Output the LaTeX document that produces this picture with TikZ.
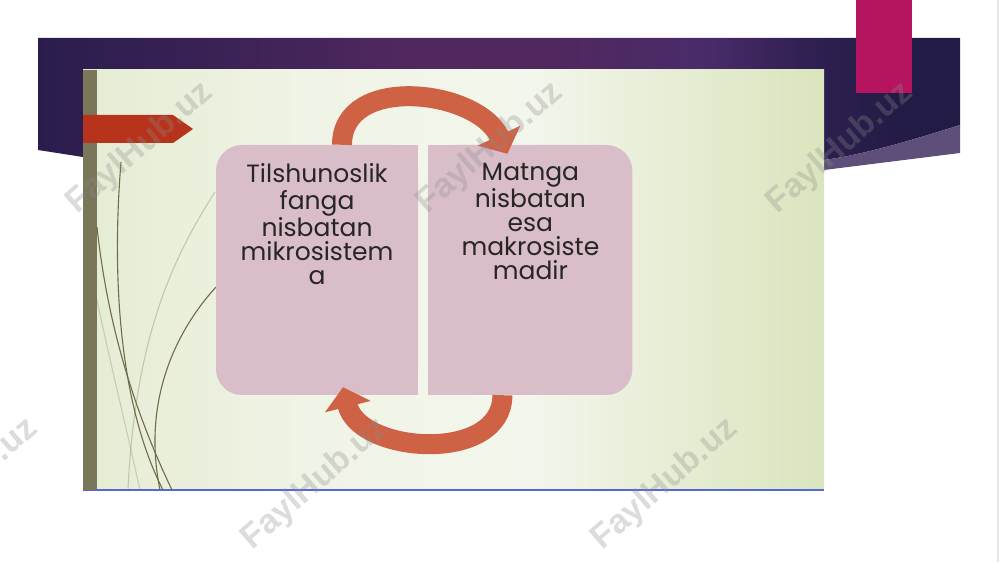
\documentclass[tikz,border=0pt]{standalone}
\usepackage{fontspec}
\usepackage{tikz}
\usetikzlibrary{arrows.meta,positioning}
\newfontfamily\panelfont{Poppins}
\newfontfamily\markfont{Liberation Sans}

\definecolor{bandleft}{HTML}{2A1D4E}
\definecolor{bandmid}{HTML}{50285E}
\definecolor{bandviolet}{HTML}{4A2B6A}
\definecolor{bandright}{HTML}{221B45}
\definecolor{swoosh}{HTML}{5E4F7A}
\definecolor{tabpink}{HTML}{B5145F}
\definecolor{slideleft}{HTML}{E5ECD3}
\definecolor{slidelight}{HTML}{F0F4E6}
\definecolor{slidemid}{HTML}{F3F6EC}
\definecolor{slideright}{HTML}{DAE5BE}
\definecolor{slideline}{HTML}{5468D4}
\definecolor{olivebar}{HTML}{79765A}
\definecolor{grassc}{HTML}{6E6C4A}
\definecolor{pointer}{HTML}{B8331B}
\definecolor{panelpink}{HTML}{D9BDC9}
\definecolor{paneltextc}{HTML}{262626}
\definecolor{arrowred}{HTML}{CF6144}

\pgfdeclarehorizontalshading{bandshade}{100bp}{color(0bp)=(bandleft); color(25bp)=(bandleft); color(34bp)=(bandleft!60!bandmid); color(45bp)=(bandmid); color(53bp)=(bandmid); color(61bp)=(bandviolet); color(67bp)=(bandright!70!bandviolet); color(72bp)=(bandright); color(100bp)=(bandright)}
\pgfdeclarehorizontalshading{slideshade}{100bp}{color(0bp)=(slideleft); color(25bp)=(slideleft); color(40bp)=(slidelight); color(55bp)=(slidemid); color(66bp)=(slidelight!50!slideright); color(75bp)=(slideright); color(100bp)=(slideright)}

\begin{document}
\begin{tikzpicture}
[ x=1pt,y=1pt, node distance=10pt and 10pt,
		panel/.style={rectangle,fill=panelpink,minimum width=202pt,minimum height=250pt,inner sep=0pt,rounded corners=26pt},
		paneltext/.style={align=center,inner sep=0pt,text=paneltextc,font=\panelfont\fontsize{25}{24}\selectfont},
		cycleArrow/.style={draw=arrowred,line width=20pt,-{Triangle[width=46pt,length=20pt]}},
		grass/.style={draw=grassc,line width=1.1pt},
		watermark/.style={rotate=41,text=black!45,opacity=0.3,font=\markfont\bfseries\fontsize{34}{34}\selectfont}]

	\useasboundingbox (0,0) rectangle (1000,562);
	\clip (0,0) rectangle (1000,562);
	\fill[white] (0,0) rectangle (1000,562);
	\draw[black!10,line width=1.5pt] (998,0) -- (998,562);

	% title band
	\shade[shading=bandshade]
		(38,524) -- (960,524) -- (960,437) .. controls (900,418) and (860,407) .. (824,402) -- (83,405) -- (38,412) -- cycle;
	\fill[swoosh] (824,402) .. controls (860,407) and (900,418) .. (960,437) -- (960,409) -- (824,392) -- cycle;
	\fill[tabpink] (856,469) rectangle (912,562);

	% slide
	\shade[shading=slideshade] (83,72) rectangle (824,492);
	\draw[slideline,line width=2pt] (83,72) -- (824,72);
	\fill[olivebar] (83,72) rectangle (97,492);
	\draw[grass] (121,400) .. controls (112,290) and (118,160) .. (163,72);
	\draw[grass] (97,335) .. controls (105,260) and (125,170) .. (172,72);
	\draw[grass] (216,275) .. controls (175,230) and (142,160) .. (160,72);
	\draw[grass,opacity=0.3] (215,370) .. controls (170,300) and (135,220) .. (128,72);
	\draw[grass,opacity=0.25] (97,262) .. controls (110,200) and (125,140) .. (140,72);
	\fill[pointer] (83,447) -- (173,447) -- (193,433) -- (173,419) -- (83,419) -- cycle;

	% panels
	\node[panel] (lbox) at (317,292) {};
	\fill[panelpink] (lbox.north) rectangle (lbox.south east);
	\node[panel,minimum width=204pt] (rbox) [right=of lbox] {};
	\fill[panelpink] (rbox.north west) rectangle (rbox.south);
	\node[paneltext,anchor=north] (ltext) [below=18pt of lbox.north] {\strut Tilshunoslik\\fanga\\nisbatan\\mikrosistem\\a};
	\node[paneltext,anchor=north] (rtext) [below=18pt of rbox.north] {\strut Matnga\\nisbatan\\esa\\makrosiste\\madir};

	\draw[cycleArrow] ([xshift=25pt]lbox.north) to[out=90,in=115,looseness=1.1] ([xshift=-23pt,yshift=-9pt]rbox.north);
	\draw[cycleArrow] ([xshift=-28pt]rbox.south) to[out=-90,in=-76,looseness=1.1] ([xshift=26pt,yshift=8pt]lbox.south);

	\foreach \wx/\wy [count=\i] in {140/414,490/414,840/414,-35/78,315/78,665/78}
		\node[watermark] (mark\i) at (\wx,\wy) {FaylHub.uz};
\end{tikzpicture}
\end{document}
